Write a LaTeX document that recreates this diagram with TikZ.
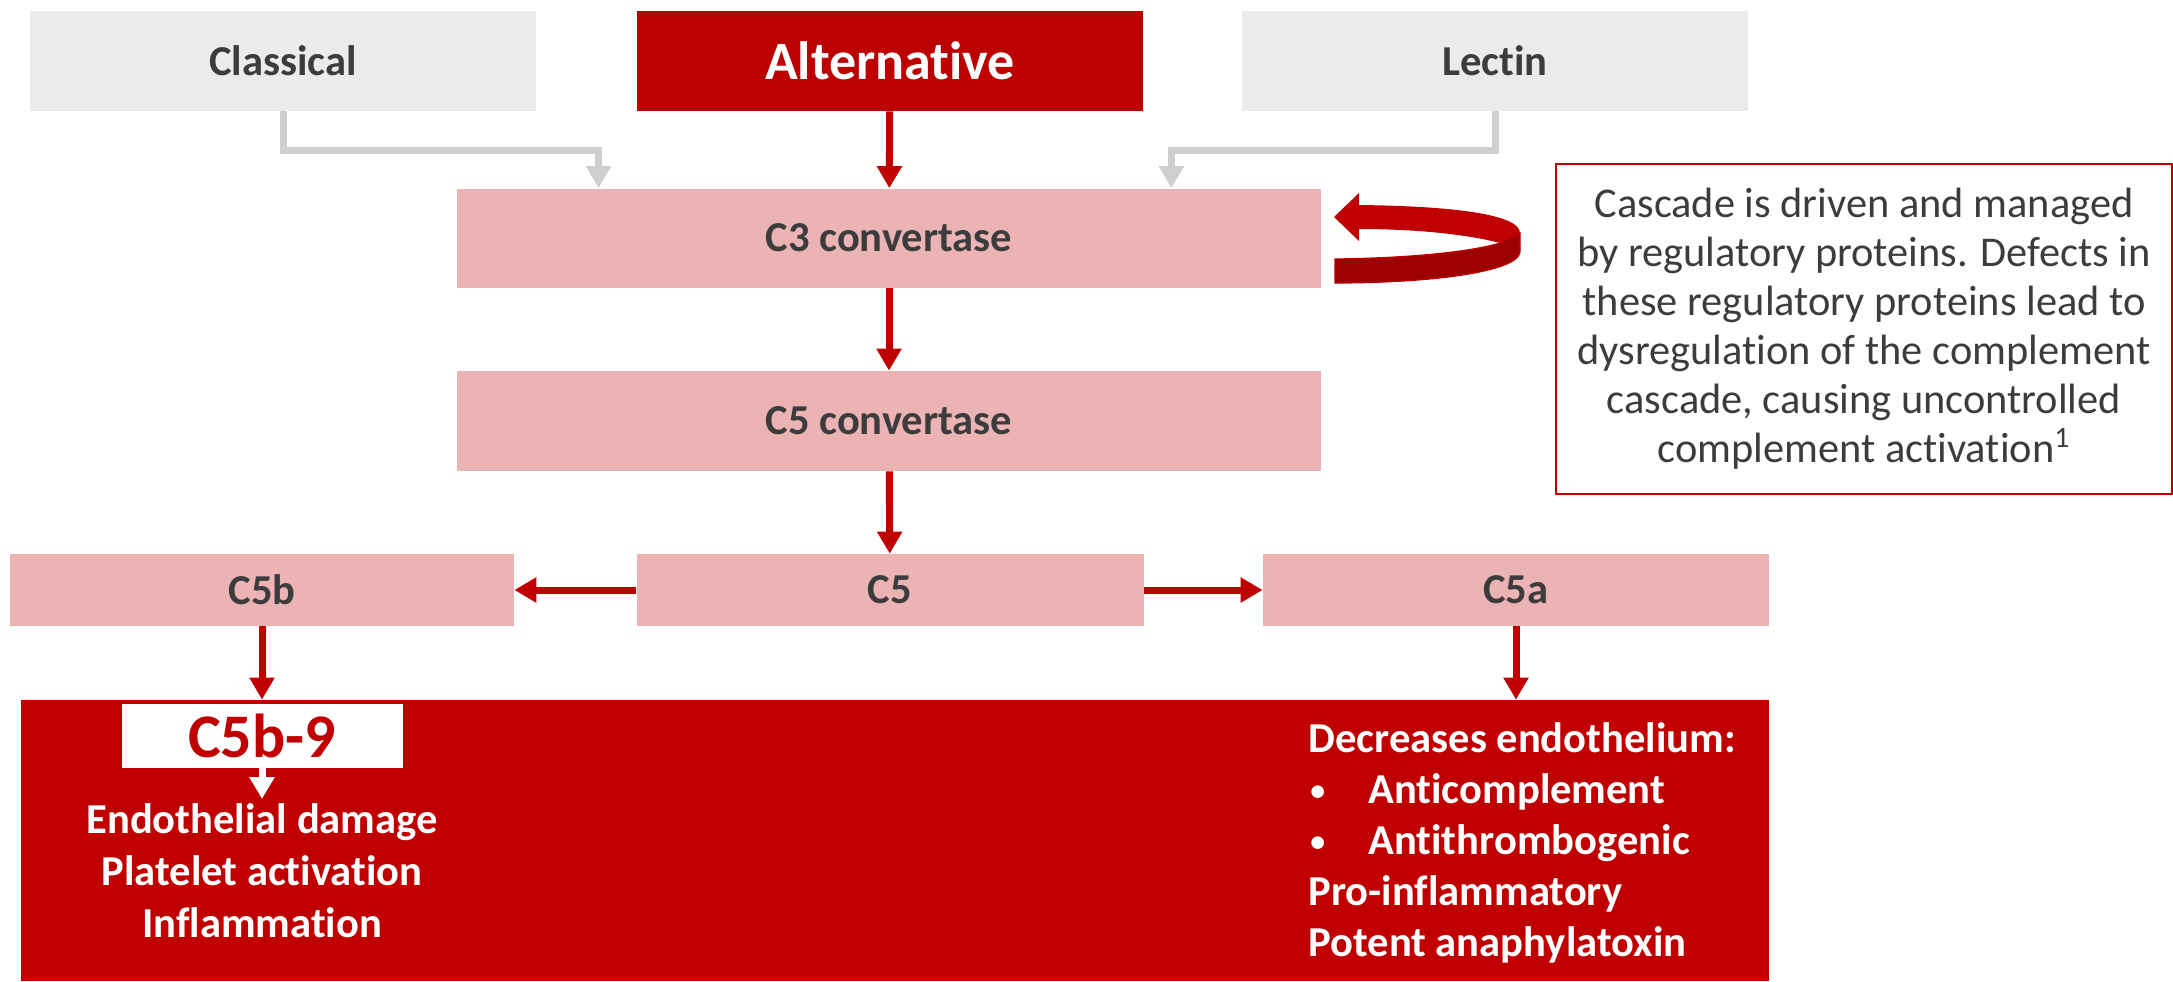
\documentclass[tikz,border=0pt]{standalone}
\usepackage{fontspec}
\usepackage{graphicx}
\setmainfont{Carlito}[Ligatures=NoCommon]
\usetikzlibrary{arrows.meta}
\definecolor{cdred}{HTML}{C00000}
\definecolor{altred}{HTML}{BC0000}
\definecolor{cddark}{HTML}{9C0000}
\definecolor{cdpink}{HTML}{EBB3B3}
\definecolor{cdgray}{HTML}{EBEBEB}
\definecolor{cdline}{HTML}{D0CFCF}
\definecolor{cdtext}{HTML}{3C3C3C}
\newcommand{\cdbullet}{\makebox[30pt][l]{\hspace{1pt}\raisebox{1.5pt}{\scalebox{0.7}{\textbullet}}}}
\begin{document}
\begin{tikzpicture}[x=0.5pt, y=-0.5pt, >={Triangle[length=11pt,width=12pt]},
  box/.style={rectangle, inner sep=0pt, text=cdtext,
    font=\fontsize{21.3}{25}\selectfont\bfseries},
  pathbox/.style={box, fill=cdgray, minimum width=253pt, minimum height=50pt},
  stepbox/.style={box, fill=cdpink, minimum height=36pt},
  redarrow/.style={->, draw=cdred, line width=3.5pt},
  grayarrow/.style={->, draw=cdline, line width=3.5pt},
  effect/.style={text=white, inner sep=0pt,
    font=\fontsize{21.3}{25.5}\selectfont\bfseries}]
  \useasboundingbox (0,0) rectangle (2173,981);

  % three pathways
  \node[pathbox] (classical) at (283,61) {Classical};
  \node[pathbox, fill=altred, text=white,
    font=\fontsize{27}{31}\selectfont\bfseries] (alt) at (890,61) {Alternative};
  \node[pathbox] (lectin) at (1495,61) {Lectin};

  % convertases
  \node[stepbox, minimum width=432pt, minimum height=49.5pt] (c3) at (889,238) {C3 convertase};
  \node[stepbox, minimum width=432pt, minimum height=50pt] (c5conv) at (889,421) {C5 convertase};

  % C5 and its fragments
  \node[stepbox, minimum width=252pt] (c5b) at (262,590) {C5b};
  \node[stepbox, minimum width=253.5pt] (c5) at (890,590) {C5};
  \node[stepbox, minimum width=253pt] (c5a) at (1516,590) {C5a};

  % effects
  \node[fill=cdred, inner sep=0pt, minimum width=874pt, minimum height=140.5pt] (effects) at (895,840.5) {};
  \node[fill=white, inner sep=0pt, minimum width=140.5pt, minimum height=32pt, text=cdred,
    font=\fontsize{31}{34}\selectfont\bfseries] (mac) at (262,736) {C5b-9};
  \node[effect, align=center, inner sep=2pt, anchor=north,
    font=\fontsize{21.3}{26}\selectfont\bfseries] (damage) at (262,799)
    {Endothelial damage\\Platelet activation\\Inflammation};
  \node[effect, align=left, anchor=west] (c5aeff) at (1308,843)
    {Decreases endothelium:\\
     \cdbullet Anticomplement\\
     \cdbullet Antithrombogenic\\
     Pro-inflammatory\\
     Potent anaphylatoxin};

  % note
  \node[draw=cdred, line width=0.8pt, minimum width=308pt, minimum height=165pt,
    inner sep=0pt, align=center, text=cdtext, font=\fontsize{21.2}{24.5}\selectfont]
    (note) at (1864,329)
    {Cascade is driven and managed\\by regulatory proteins. Defects in\\these regulatory proteins lead to\\dysregulation of the complement\\cascade, causing uncontrolled\\complement activation\textsuperscript{1}};

  % connectors
  \draw[grayarrow] (classical.south) -- ++(0,39) -| ([xshift=71pt]c3.north west);
  \draw[grayarrow] (lectin.south) -- ++(0,39) -| ([xshift=-75pt]c3.north east);
  \draw[redarrow] (alt) -- (c3);
  \draw[redarrow] (c3) -- (c5conv);
  \draw[redarrow] (c5conv) -- (c5);
  \draw[redarrow] (c5) -- (c5b);
  \draw[redarrow] (c5) -- (c5a);
  \draw[redarrow] (c5b.south) -- (c5b.south |- effects.north);
  \draw[redarrow] (c5a.south) -- (c5a.south |- effects.north);
  \draw[redarrow, draw=white] (mac.south) -- (damage.north);

  % looping arrow beside C3 convertase
  \fill[cddark, draw=cdred, line width=0.6pt]
    (1500,243) -- (1520,233) -- (1520,252)
    .. controls (1518,272) and (1430,283) .. (1335,283) -- (1335,259)
    .. controls (1410,258) and (1470,252) .. cycle;
  \fill[cdred]
    (1334,217) -- (1359,193) -- (1359,205)
    .. controls (1450,206) and (1520,214) .. (1520,233) -- (1500,243)
    .. controls (1470,235) and (1420,229) .. (1359,229) -- (1359,241) -- cycle;
\end{tikzpicture}
\end{document}
